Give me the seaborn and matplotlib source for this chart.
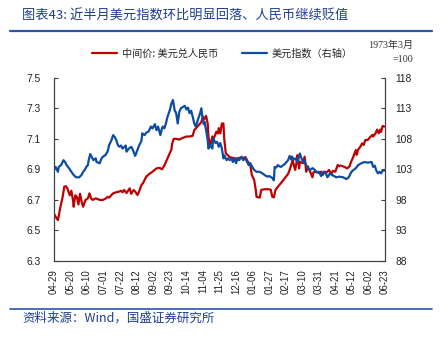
import matplotlib
matplotlib.use("Agg")
import matplotlib.pyplot as plt
from matplotlib.lines import Line2D
import seaborn as sns
import pandas as pd

# ---- data -------------------------------------------------------------
# observation day = days since 2022-04-29
cny_days = [0, 2, 5, 8, 11, 13, 15, 17, 20, 22, 24, 25, 27, 29, 31, 33, 35, 37, 40, 43,
            45, 47, 49, 53, 58, 62, 66, 68, 70, 75, 79, 83, 85, 87, 89, 92, 96, 98, 101, 103,
            106, 108, 111, 113, 117, 121, 125, 130, 134, 137, 140, 143, 146, 149, 150, 152, 155, 159, 163, 168,
            172, 176, 178, 182, 187, 189, 191, 193, 195, 196, 198, 201, 203, 206, 208, 209, 211, 213, 215, 216,
            218, 223, 227, 231, 235, 240, 243, 246, 249, 251, 254, 256, 257, 261, 263, 267, 271, 275, 277, 279,
            281, 284, 288, 291, 295, 297, 299, 301, 303, 304, 306, 308, 309, 311, 312, 316, 318, 320, 322, 325,
            328, 329, 333, 337, 339, 341, 343, 346, 349, 352, 354, 357, 360, 362, 364, 369, 372, 375, 377, 379,
            383, 384, 386, 389, 391, 393, 395, 398, 401, 404, 405, 408, 410, 412, 414, 415, 417, 419]
usdcny = [6.61, 6.59, 6.568, 6.65, 6.72, 6.786, 6.79, 6.775, 6.73, 6.76, 6.70, 6.655, 6.73, 6.72, 6.67, 6.74, 6.69, 6.655, 6.70, 6.71,
          6.743, 6.71, 6.70, 6.71, 6.70, 6.70, 6.71, 6.72, 6.715, 6.743, 6.75, 6.755, 6.76, 6.75, 6.765, 6.745, 6.776, 6.74, 6.765, 6.755,
          6.732, 6.755, 6.798, 6.81, 6.852, 6.87, 6.885, 6.906, 6.91, 6.90, 6.925, 6.96, 6.994, 7.03, 7.07, 7.10, 7.10, 7.095, 7.105, 7.115,
          7.115, 7.12, 7.157, 7.18, 7.21, 7.245, 7.23, 7.25, 7.20, 7.115, 7.05, 7.115, 7.105, 7.146, 7.135, 7.17, 7.135, 7.20, 7.20, 7.10,
          7.005, 6.98, 6.975, 6.97, 6.975, 6.975, 6.98, 6.95, 6.93, 6.863, 6.83, 6.765, 6.72, 6.715, 6.765, 6.77, 6.77, 6.767, 6.72, 6.717,
          6.765, 6.786, 6.81, 6.83, 6.857, 6.87, 6.896, 6.93, 6.96, 6.935, 6.896, 6.95, 6.994, 6.906, 6.95, 6.94, 6.983, 6.885, 6.92, 6.885,
          6.848, 6.88, 6.885, 6.875, 6.885, 6.863, 6.885, 6.88, 6.896, 6.87, 6.89, 6.885, 6.929, 6.92, 6.925, 6.915, 6.906, 6.92, 6.95, 6.972,
          7.027, 6.995, 7.03, 7.05, 7.07, 7.06, 7.092, 7.092, 7.11, 7.125, 7.115, 7.136, 7.16, 7.136, 7.16, 7.145, 7.184, 7.18]

dxy_days = [0, 2, 5, 6, 9, 12, 14, 16, 19, 22, 25, 28, 32, 35, 37, 39, 41, 43, 44, 46,
            48, 50, 53, 54, 58, 60, 62, 65, 68, 70, 73, 75, 77, 79, 81, 83, 85, 87, 91, 92,
            95, 98, 100, 103, 106, 108, 111, 112, 115, 117, 120, 123, 125, 128, 130, 132, 135, 137, 138, 140,
            142, 144, 147, 149, 151, 153, 155, 157, 159, 161, 166, 168, 170, 172, 174, 176, 178, 180, 183, 185,
            187, 188, 190, 191, 193, 195, 196, 198, 201, 202, 205, 207, 209, 211, 213, 215, 216, 219, 221, 223,
            225, 227, 229, 231, 233, 235, 238, 240, 243, 245, 247, 249, 252, 254, 257, 261, 265, 268, 271, 273,
            277, 279, 280, 282, 284, 286, 288, 293, 297, 299, 301, 302, 304, 306, 309, 312, 314, 316, 318, 320,
            322, 325, 328, 331, 333, 336, 339, 342, 345, 347, 350, 354, 358, 362, 367, 371, 374, 377, 379, 383,
            386, 390, 394, 398, 403, 405, 407, 409, 411, 413, 415, 417, 419]
dxy = [103.3, 103.4, 102.6, 103.4, 103.7, 104.5, 104.2, 103.7, 103.2, 102.6, 102.07, 101.7, 101.7, 102.1, 102.6, 102.9, 103.4, 103.7, 104.5, 105.5,
       105.0, 104.5, 104.8, 104.2, 104.0, 104.7, 105.07, 105.3, 105.9, 106.98, 107.8, 108.6, 108.3, 107.8, 106.98, 106.7, 106.9, 106.4, 106.9, 105.9,
       106.4, 106.7, 106.2, 105.2, 106.2, 106.9, 107.7, 108.9, 108.6, 109.0, 109.2, 110.0, 109.7, 110.4, 109.4, 110.0, 108.6, 109.7, 110.0, 109.7,
       110.5, 111.6, 112.7, 113.8, 114.35, 112.7, 112.2, 110.5, 112.4, 113.0, 113.4, 112.8, 113.1, 112.2, 112.6, 111.6, 110.5, 110.0, 111.3, 112.0,
       113.0, 111.8, 110.4, 110.8, 109.4, 107.8, 106.4, 107.0, 106.4, 108.1, 107.3, 107.5, 106.7, 107.3, 106.4, 104.8, 105.3, 104.5, 104.8, 104.5,
       104.8, 104.2, 104.8, 104.0, 104.8, 104.5, 105.07, 104.5, 104.8, 104.2, 103.7, 104.0, 103.3, 102.9, 102.6, 102.6, 102.3, 102.0, 101.8, 101.9,
       101.6, 101.2, 103.4, 103.3, 103.7, 103.5, 103.4, 103.9, 104.5, 105.2, 104.6, 105.1, 104.6, 104.8, 104.2, 105.6, 104.8, 104.2, 104.4, 103.6,
       103.2, 102.9, 103.2, 102.9, 102.5, 102.6, 101.9, 102.6, 102.3, 101.7, 102.3, 102.0, 101.7, 101.8, 101.7, 101.4, 101.7, 102.5, 102.8, 103.2,
       103.7, 104.0, 104.2, 104.1, 104.2, 103.4, 103.6, 102.8, 102.35, 102.6, 102.35, 102.8, 102.8]

tick_days = list(range(0, 421, 21))
tick_labels = ["04-29", "05-20", "06-10", "07-01", "07-22", "08-12", "09-02", "09-23",
               "10-14", "11-04", "11-25", "12-16", "01-06", "01-27", "02-17", "03-10",
               "03-31", "04-21", "05-12", "06-02", "06-23"]
left_ticks = [6.3, 6.5, 6.7, 6.9, 7.1, 7.3, 7.5]
right_ticks = [88, 93, 98, 103, 108, 113, 118]

title = "图表43: 近半月美元指数环比明显回落、人民币继续贬值"
source = "资料来源：Wind，国盛证券研究所"
label_cny = "中间价: 美元兑人民币"
label_dxy = "美元指数（右轴）"

cny_df = pd.DataFrame({"day": cny_days, "value": usdcny})
dxy_df = pd.DataFrame({"day": dxy_days, "value": dxy})

# ---- style ------------------------------------------------------------
sns.set_theme(style="white")
plt.rcParams["font.family"] = ["Liberation Sans", "Noto Sans CJK SC"]
CJK = ["Noto Sans CJK SC", "DejaVu Sans"]
RED = "#C00000"
BLUE = "#0C4DA2"
NAVY = "#1F3F8F"
SPINE = "#404040"

fig = plt.figure(figsize=(4.4, 3.38), dpi=100)
ax = fig.add_axes([54 / 440, 1 - 261 / 338, (385 - 54) / 440, (261 - 77.7) / 338])
ax2 = ax.twinx()

sns.lineplot(data=cny_df, x="day", y="value", ax=ax, color=RED, linewidth=1.6, sort=False)
sns.lineplot(data=dxy_df, x="day", y="value", ax=ax2, color=BLUE, linewidth=1.6, sort=False)

ax.set_xlim(0, 420)
ax.set_ylim(6.3, 7.5)
ax2.set_ylim(88, 118)
ax.set_xlabel("")
ax.set_ylabel("")
ax2.set_ylabel("")

ax.set_xticks(tick_days)
ax.set_xticklabels(tick_labels, rotation=90)
ax.set_yticks(left_ticks)
ax.set_yticklabels([f"{v:.1f}" for v in left_ticks])
ax2.set_yticks(right_ticks)
ax2.set_yticklabels([str(v) for v in right_ticks])

for a in (ax, ax2):
    a.grid(False)
    a.spines["top"].set_visible(False)
    for s in ("left", "right", "bottom"):
        a.spines[s].set_color(SPINE)
        a.spines[s].set_linewidth(0.8)
    a.set_facecolor("none")

ax.tick_params(axis="y", direction="in", length=3, width=0.8, color=SPINE,
               labelsize=7.4, pad=9.5, labelcolor="#222222", left=True)
ax2.tick_params(axis="y", direction="in", length=3, width=0.8, color=SPINE,
                labelsize=7.4, pad=7.5, labelcolor="#222222", right=True)
ax.tick_params(axis="x", direction="in", length=0, labelsize=6.9, pad=6,
               labelcolor="#222222")

# ---- legend entries -----------------------------------------------------
h_cny = ax.get_lines()[0]
h_dxy = ax2.get_lines()[0]
for handle, text, x0 in ((h_cny, label_cny, 92 / 440), (h_dxy, label_dxy, 241.5 / 440)):
    fig.legend([handle], [text], loc="center left", bbox_to_anchor=(x0, 1 - 53.3 / 338),
               frameon=False, borderpad=0, borderaxespad=0, handlelength=2.5,
               handletextpad=0.45, prop={"family": CJK, "size": 7.3})

fig.text(413 / 440, 1 - 45 / 338, "1973年3月", ha="right", va="center", fontsize=7.2,
         family=["Liberation Serif", "Noto Sans CJK SC"], color="#333333")
fig.text(413 / 440, 1 - 59 / 338, "=100", ha="right", va="center", fontsize=7.2,
         family=["Liberation Serif", "Noto Sans CJK SC"], color="#333333")

# ---- title, source and rules ---------------------------------------------
fig.text(22 / 440, 1 - 16 / 338, title, ha="left", va="center", fontsize=9.5,
         family=CJK, color=NAVY)
fig.text(22 / 440, 1 - 318.5 / 338, source, ha="left", va="center", fontsize=9.0,
         family=CJK, color=NAVY)
fig.add_artist(Line2D([10 / 440, 432 / 440], [1 - 31 / 338] * 2, color="#2B55A8", lw=1.6))
fig.add_artist(Line2D([10 / 440, 432 / 440], [1 - 309.3 / 338] * 2, color="#2B55A8", lw=1.2))

fig.savefig("out.png", dpi=100)
